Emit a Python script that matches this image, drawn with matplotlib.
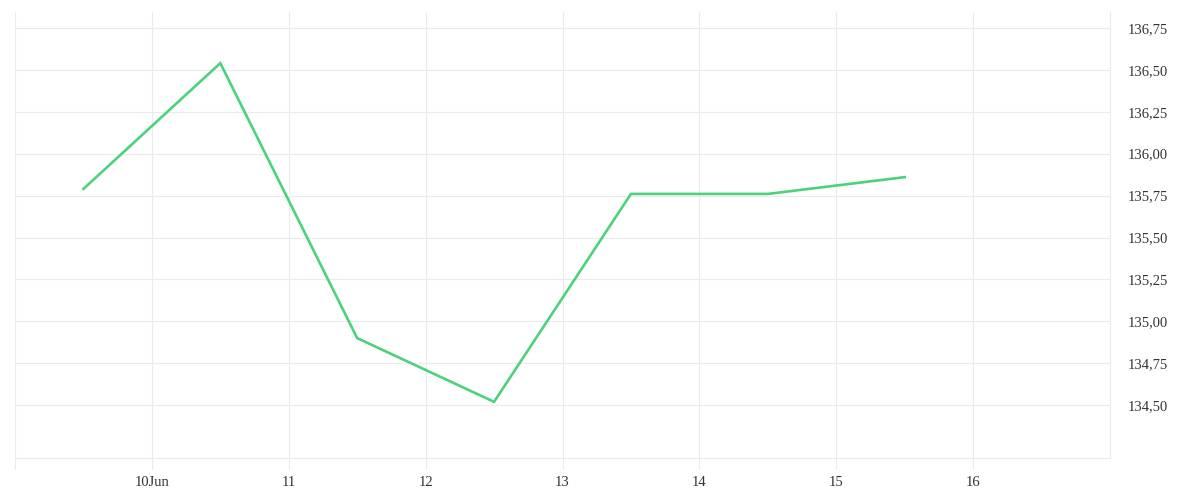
import numpy as np
import pandas as pd
import matplotlib
matplotlib.use("Agg")
import matplotlib.pyplot as plt
import matplotlib.dates as mdates
from matplotlib.ticker import FuncFormatter

# price series, one point per day at noon
dates = ["2021-06-09 12:00", "2021-06-10 12:00", "2021-06-11 12:00", "2021-06-12 12:00",
         "2021-06-13 12:00", "2021-06-14 12:00", "2021-06-15 12:00"]
prices = [135.79, 136.54, 134.90, 134.52, 135.76, 135.76, 135.86]

day_ticks = ["2021-06-09", "2021-06-10", "2021-06-11", "2021-06-12",
             "2021-06-13", "2021-06-14", "2021-06-15", "2021-06-16"]
day_labels = ["", "10Jun", "11", "12", "13", "14", "15", "16"]
y_ticks = [134.50, 134.75, 135.00, 135.25, 135.50, 135.75, 136.00, 136.25, 136.50, 136.75]

x = pd.to_datetime(dates)
xt = pd.to_datetime(day_ticks)

fig = plt.figure(figsize=(12, 5), dpi=100)
ax = fig.add_axes([15 / 1200, 42 / 500, 1095 / 1200, 446 / 500])

grid_c = "#ebebeb"
ax.plot(x, prices, color="#4cd27c", lw=1.9, solid_joinstyle="miter")

ax.set_xlim(pd.Timestamp("2021-06-09"), pd.Timestamp("2021-06-17"))
ax.set_ylim(134.185, 136.845)

ax.set_xticks(xt)
ax.set_xticklabels(day_labels)
ax.set_yticks(y_ticks)
ax.yaxis.set_major_formatter(FuncFormatter(lambda v, p: f"{v:.2f}".replace(".", ",")))
ax.yaxis.tick_right()

ax.grid(True, color=grid_c, lw=0.8)
for s in ["top", "left"]:
    ax.spines[s].set_visible(False)
ax.spines["right"].set_color(grid_c)
ax.spines["bottom"].set_color(grid_c)
ax.spines["right"].set_linewidth(0.8)
ax.spines["bottom"].set_linewidth(0.8)

ax.tick_params(axis="x", length=8, color=grid_c, labelsize=10.5, labelcolor="#333333", pad=5)
ax.tick_params(axis="y", length=0, labelsize=10.5, labelcolor="#333333", pad=13)
for lab in ax.get_xticklabels() + ax.get_yticklabels():
    lab.set_fontfamily("Liberation Serif")

fig.savefig("out.png", dpi=100)
